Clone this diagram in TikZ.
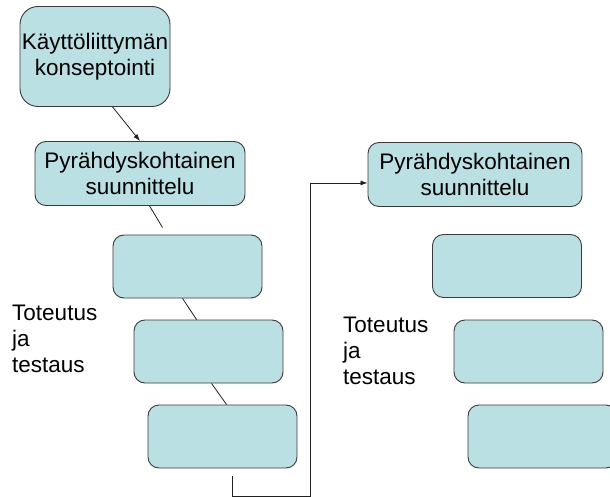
\documentclass[tikz,border=0pt]{standalone}
\usepackage{fontspec}
\setmainfont{Liberation Sans}
\usetikzlibrary{arrows.meta,calc}
\definecolor{boxfill}{HTML}{BBE0E3}
\definecolor{boxline}{HTML}{3A3A3A}
\definecolor{conn}{HTML}{202020}
\begin{document}
\begin{tikzpicture}[x=1pt,y=-1pt,
  boxbase/.style={draw=boxline, fill=boxfill, line width=0.9pt, inner sep=0pt,
    align=center, font=\fontsize{22.5}{26}\selectfont},
  bigbox/.style={boxbase, rounded corners=18pt, minimum width=150pt, minimum height=100pt},
  titlebox/.style={boxbase, rounded corners=11pt, minimum width=#1, minimum height=64pt},
  smallbox/.style={boxbase, rounded corners=11pt, minimum width=149pt, minimum height=63pt},
  lbl/.style={inner sep=0pt, align=left, anchor=north west, font=\fontsize{22.5}{26}\selectfont},
  cline/.style={draw=conn, line width=0.8pt},
  arr/.style={cline, -{Latex[length=7pt,width=5pt]}}]
\useasboundingbox (0,0) rectangle (610,497);
% left column
\node[bigbox] (b1) at (95,56.5) {Käyttöliittymän\\konseptointi};
\node[titlebox=210pt] (b2) at (140,173.5) {Pyrähdyskohtainen\\suunnittelu};
\node[smallbox] (b3) at (187.5,266.5) {};
\node[smallbox] (b4) at (208.5,351.5) {};
\node[smallbox] (b5) at (222.5,436.5) {};
\node[lbl] (t1) at (12,305) {Toteutus\\ja\\testaus};
% right column
\node[titlebox=214pt] (r0) at (475,174.5) {Pyrähdyskohtainen\\suunnittelu};
\node[smallbox] (r1) at (507,266) {};
\node[smallbox] (r2) at (528.5,351.5) {};
\node[smallbox] (r3) at (542.5,436.5) {};
\node[lbl] (t2) at (343,317) {Toteutus\\ja\\testaus};
% connectors
\draw[arr] ($(b1.south west)+(93,0)$) -- (b2.north);
\coordinate (c1) at ($(b3.north west)+(50,-7)$);
\draw[cline] ($(b2.south west)+(115,0)$) -- (c1);
\draw[cline] ($(b3.south west)+(70,0)$) -- ($(b4.north west)+(63,0)$);
\draw[cline] ($(b4.south west)+(78,0)$) -- ($(b5.north west)+(79,0)$);
\coordinate (s1) at ($(b5.south west)+(85,8)$);
\coordinate (e1) at ($(r0.south west)+(0,-24)$);
\draw[arr] (s1) -- ++(0,20) -- ++(78,0) |- (e1);
\end{tikzpicture}
\end{document}
